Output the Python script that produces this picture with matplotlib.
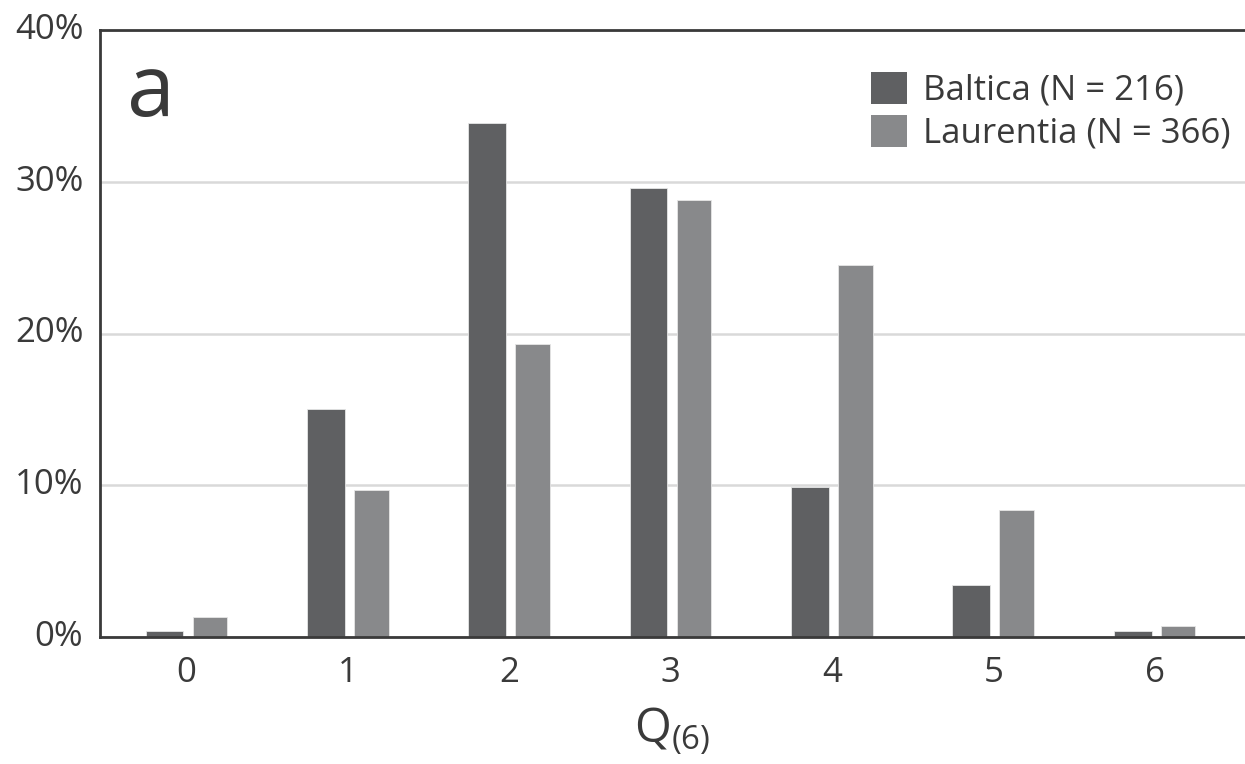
import matplotlib
matplotlib.use("Agg")
import matplotlib.pyplot as plt
import numpy as np
from matplotlib.patches import Patch

categories = ["0", "1", "2", "3", "4", "5", "6"]
baltica = [0.4, 15.0, 33.9, 29.6, 9.9, 3.4, 0.4]
laurentia = [1.3, 9.7, 19.3, 28.8, 24.5, 8.4, 0.7]
yticks = [0, 10, 20, 30, 40]
ytick_labels = ["0%", "10%", "20%", "30%", "40%"]
series_labels = ["Baltica (N = 216)", "Laurentia (N = 366)"]

plt.rcParams['font.family'] = ['Open Sans', 'DejaVu Sans']
plt.rcParams['mathtext.fontset'] = 'custom'
plt.rcParams['mathtext.rm'] = 'Open Sans'
plt.rcParams['mathtext.it'] = 'Open Sans'

c_balt = '#5f6062'
c_laur = '#88898b'
txt = '#3a3a3a'

fig = plt.figure(figsize=(12.45, 7.64), dpi=100)
ax = fig.add_axes([100/1245, 127/764, 1 - 100/1245, (637-30)/764])

x = np.arange(len(categories))
ax.bar(x - 0.137, baltica, width=0.235, color=c_balt, edgecolor='#e6e6e6', linewidth=0.6, zorder=3)
ax.bar(x + 0.145, laurentia, width=0.215, color=c_laur, edgecolor='#e6e6e6', linewidth=0.6, zorder=3)

ax.set_xlim(-0.537, 6.56)
ax.set_ylim(0, 40)
ax.set_yticks(yticks)
ax.set_yticklabels(ytick_labels)
ax.set_xticks(x)
ax.set_xticklabels(categories)
ax.tick_params(axis='both', length=0, labelsize=25, colors=txt)
ax.tick_params(axis='x', pad=14)
ax.tick_params(axis='y', pad=12)
for t in ax.get_yticklabels():
    t.set_verticalalignment('center')

ax.yaxis.grid(True, color='#d9d9d9', linewidth=1.8, zorder=0)
ax.set_axisbelow(True)
for s in ['left', 'bottom', 'top']:
    ax.spines[s].set_color(txt)
    ax.spines[s].set_linewidth(2)
    ax.spines[s].set_zorder(5)
ax.spines['right'].set_visible(False)

ax.set_xlabel(r'$\mathrm{Q}_{(6)}$', fontsize=34, color=txt, labelpad=11)

ax.text(127/1245, 1 - 116/764, 'a', transform=fig.transFigure, fontsize=62,
        color=txt, ha='left', va='baseline')

handles = [Patch(facecolor=c_balt, edgecolor='none'), Patch(facecolor=c_laur, edgecolor='none')]
leg = ax.legend(handles, series_labels, loc='upper right',
                fontsize=25, frameon=False, handlelength=1.05, handleheight=1.05,
                handletextpad=0.45, labelspacing=0.2, borderaxespad=0.0)
leg.set_bbox_to_anchor((1244/1245, 1 - 58/764), transform=fig.transFigure)
for t in leg.get_texts():
    t.set_color(txt)

fig.savefig('out.png', dpi=100)
